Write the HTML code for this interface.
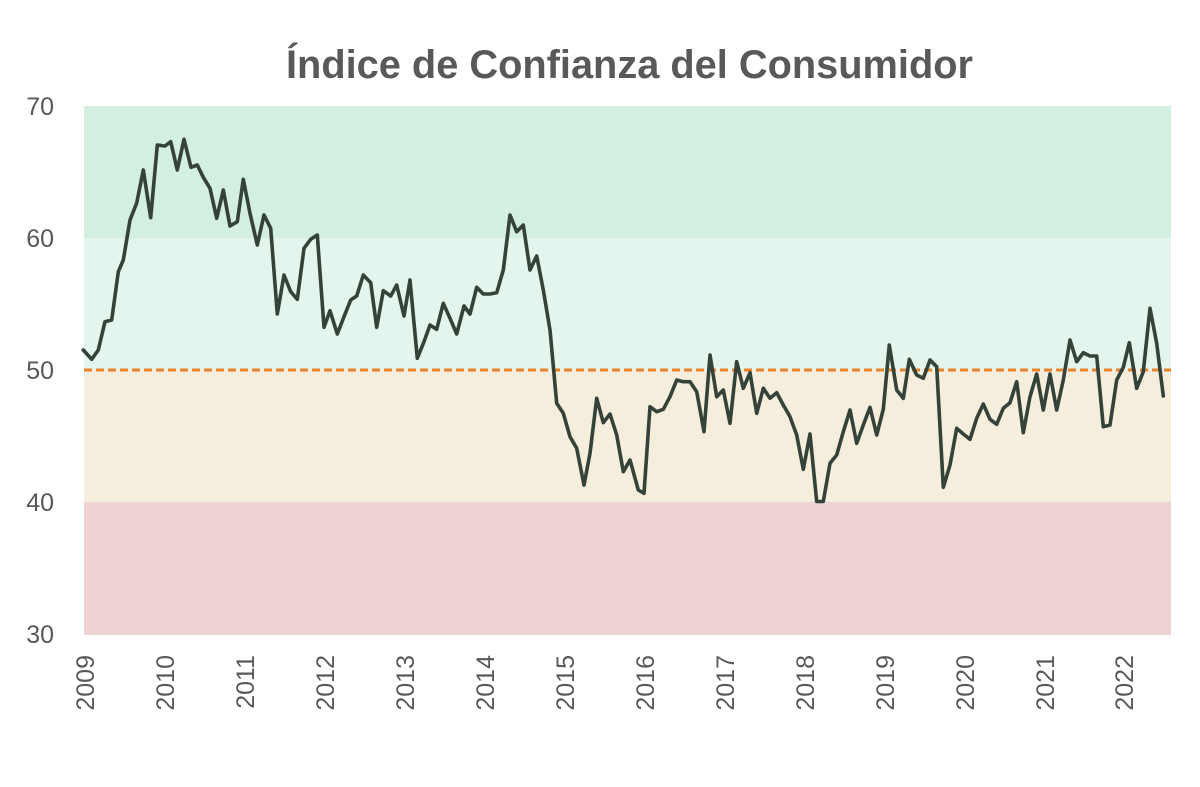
<!DOCTYPE html>
<html>
<head>
<meta charset="utf-8">
<style>
  html,body{margin:0;padding:0;background:#ffffff;}
  svg{display:block;}
  text{font-family:"Liberation Sans", sans-serif;}
</style>
</head>
<body>
<svg width="1200" height="787" viewBox="0 0 1200 787" xmlns="http://www.w3.org/2000/svg">
  <rect x="0" y="0" width="1200" height="787" fill="#ffffff"/>
  <!-- Title -->
  <text x="286" y="78" font-size="40" font-weight="bold" fill="#595959" textLength="687" lengthAdjust="spacingAndGlyphs">Índice de Confianza del Consumidor</text>

  <!-- Bands -->
  <rect x="84" y="106" width="1087" height="132" fill="#d3efe0"/>
  <rect x="84" y="238" width="1087" height="132" fill="#e3f5ec"/>
  <rect x="84" y="370" width="1087" height="132" fill="#f6eedc"/>
  <rect x="84" y="502" width="1087" height="133" fill="#efd2d4"/>

  <!-- Y labels -->
  <g font-size="25" fill="#595959" text-anchor="end">
    <text x="54" y="115">70</text>
    <text x="54" y="247">60</text>
    <text x="54" y="379">50</text>
    <text x="54" y="511">40</text>
    <text x="54" y="643">30</text>
  </g>

  <!-- X labels -->
  <g font-size="25" fill="#595959" text-anchor="end">
    <text transform="translate(94,655) rotate(-90)">2009</text>
    <text transform="translate(174,655) rotate(-90)">2010</text>
    <text transform="translate(254,655) rotate(-90)">2011</text>
    <text transform="translate(334,655) rotate(-90)">2012</text>
    <text transform="translate(414,655) rotate(-90)">2013</text>
    <text transform="translate(494,655) rotate(-90)">2014</text>
    <text transform="translate(574,655) rotate(-90)">2015</text>
    <text transform="translate(654,655) rotate(-90)">2016</text>
    <text transform="translate(734,655) rotate(-90)">2017</text>
    <text transform="translate(814,655) rotate(-90)">2018</text>
    <text transform="translate(894,655) rotate(-90)">2019</text>
    <text transform="translate(974,655) rotate(-90)">2020</text>
    <text transform="translate(1054,655) rotate(-90)">2021</text>
    <text transform="translate(1133,655) rotate(-90)">2022</text>
  </g>

  <!-- 50 reference line -->
  <line x1="84" y1="370" x2="1171" y2="370" stroke="#e8842a" stroke-width="3" stroke-dasharray="8,4"/>

  <!-- Series -->
  <polyline fill="none" stroke="#34423a" stroke-width="3.6" stroke-linejoin="round" stroke-linecap="round"
    points="83.3,350 91.7,359.3 98.3,350 105,321.7 111.7,320 118.3,271.7 123.3,260 130,220 136.7,203 143.3,170 150.7,217.7 157.3,145 165,146 170.7,141.7 177.3,170 184,139.3 191,167.3 197.3,165 203.3,177.3 210,188.3 216.7,218.3 223.3,190 230,226 237.3,221.7 243.3,179.3 250,213.3 257.3,245 264,215 270.7,228.3 277.3,314 284,275 290.7,291.7 297.3,299.3 304,248.3 310.7,239.3 317.3,235 324,327.3 330,310.7 337.3,334 344,316.7 350.7,300 356.7,296 363.3,275 370.7,282.7 376.7,327.3 383.3,290.7 390.7,296 396.7,285 404,316 410,280 417.3,358.3 424,341.7 430,325 436.7,329.3 443.3,303.3 450,318.3 456.7,334 464,306 470,314 476.7,287.3 483.3,294 490,294 496.7,292.7 503.3,270 510,215 516.7,231.7 523.3,225 530,270 536.7,256 543.3,290 550,330 556.7,403.3 563.3,413.3 570,436.7 576.7,448.3 584,485 590,453.3 596.7,398.3 603.3,422.7 610,414 616.7,435 623.3,471.7 630,460 638.3,490 644,493.3 650,406.7 656.7,411.7 663.3,409.3 670,396.7 676.7,380 683.3,381.7 690,381.7 696.7,391.7 704,431.7 710,355 716.7,396.7 723.3,390 730,423.3 736.7,361.7 743.3,388.3 750,372.7 756.7,413.3 763.3,388.3 770,398.3 776.7,392.7 783.3,405 790,416.7 796.7,435 803.3,469.3 810,434 816.7,501.5 823.3,501.5 830,463.3 836.7,455 843.3,431.7 850,410 856.7,443.3 863.3,425 870,407.3 876.7,435 883.3,409.3 889.3,345 896.7,390 903.3,398.3 909.3,359.3 916.7,375 923.3,378.3 930,360 936.7,366.7 943.3,487.3 950,465 956.7,428.3 963.3,434 970,439.3 976.7,418.3 983.3,404 990,419.3 996.7,424.3 1003.3,408.3 1010,402.7 1016.7,381.7 1023.3,432.7 1030,396.7 1036.7,374 1043.3,410 1050,374 1056.7,410 1063.3,380 1070,340 1076.7,361.7 1083.3,352.7 1090,356 1096.7,356 1103.3,426.7 1110,425 1116.7,380 1123.3,367.3 1129.3,342.7 1136.7,388.3 1143.3,371.7 1150,308.3 1156.7,343.3 1163.3,396"/>
</svg>
</body>
</html>
